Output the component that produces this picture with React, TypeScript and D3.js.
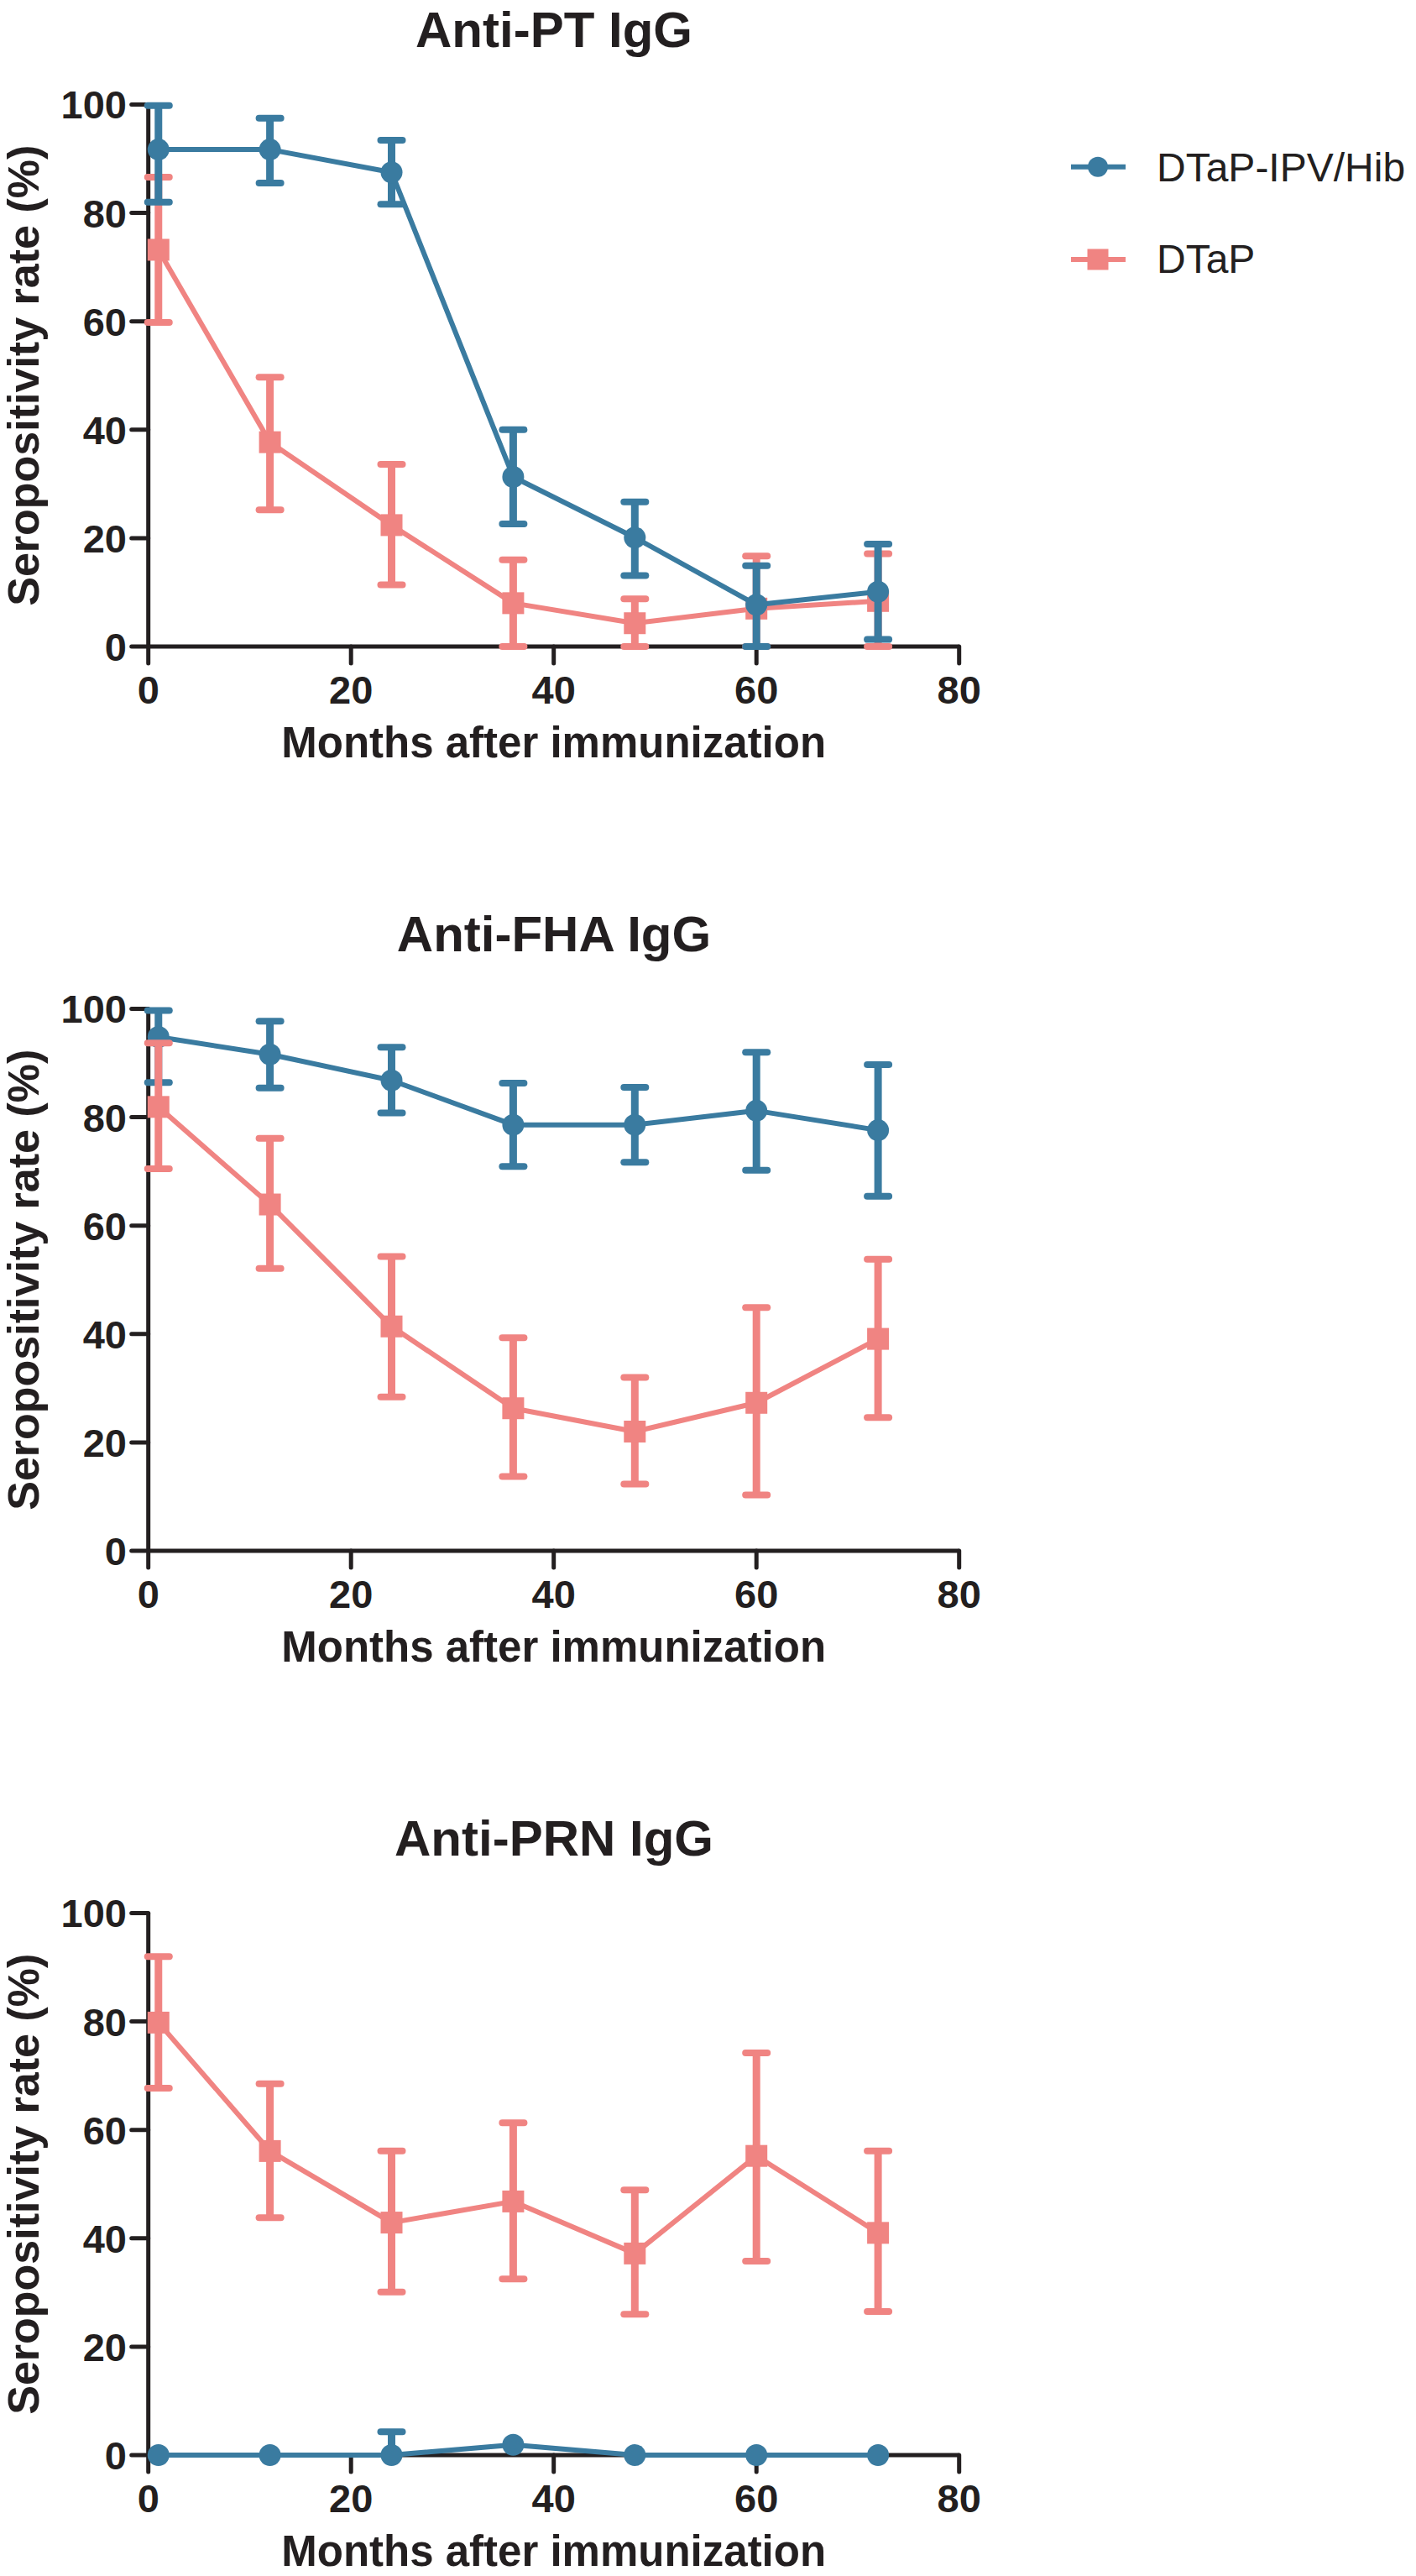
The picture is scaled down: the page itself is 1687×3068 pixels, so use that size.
import React from 'react';
import * as d3 from 'd3';

const months = [1, 12, 24, 36, 48, 60, 72];
const seriesNames = ['DTaP-IPV/Hib', 'DTaP'];
const panelTitles = ['Anti-PT IgG', 'Anti-FHA IgG', 'Anti-PRN IgG'];
const yTicks = [0, 20, 40, 60, 80, 100];
const xTicks = [0, 20, 40, 60, 80];

// Anti-PT
const ptCombo = [91.7, 91.7, 87.5, 31.3, 20.1, 7.7, 10.1];
const ptComboLo = [82.0, 85.5, 81.6, 22.6, 13.1, 0, 1.3];
const ptComboHi = [99.8, 97.5, 93.4, 40.0, 26.7, 14.9, 18.9];
const ptDtap = [73.2, 37.7, 22.4, 8.0, 4.3, 7.0, 8.4];
const ptDtapLo = [59.8, 25.2, 11.4, 0, 0, 0, 0];
const ptDtapHi = [86.6, 49.7, 33.6, 16.0, 8.8, 16.7, 17.1];

// Anti-FHA
const fhaCombo = [94.8, 91.6, 86.8, 78.6, 78.6, 81.2, 77.6];
const fhaComboLo = [86.4, 85.4, 80.8, 70.9, 71.7, 70.2, 65.4];
const fhaComboHi = [99.7, 97.7, 92.9, 86.3, 85.5, 92.0, 89.7];
const fhaDtap = [81.9, 63.9, 41.4, 26.3, 22.0, 27.3, 39.1];
const fhaDtapLo = [70.5, 52.1, 28.4, 13.7, 12.3, 10.3, 24.6];
const fhaDtapHi = [93.7, 76.1, 54.3, 39.3, 32.0, 44.9, 53.8];

// Anti-PRN
const prnCombo = [0, 0, 0, 1.9, 0, 0, 0];
const prnComboLo = [0, 0, 0, 1.9, 0, 0, 0];
const prnComboHi = [0, 0, 4.3, 1.9, 0, 0, 0];
const prnDtap = [79.8, 56.1, 42.9, 46.8, 37.2, 55.2, 41.0];
const prnDtapLo = [67.7, 43.8, 30.1, 32.5, 26.0, 35.8, 26.5];
const prnDtapHi = [92.0, 68.5, 56.1, 61.3, 48.9, 74.2, 56.1];

const BLUE = '#3a7ba0';
const PINK = '#f08482';
const INK = '#231f20';
const FONT = '"Liberation Sans", Arial, sans-serif';

const panels = [
  { title: panelTitles[0], combo: [ptCombo, ptComboLo, ptComboHi], dtap: [ptDtap, ptDtapLo, ptDtapHi], pinkOnTop: false },
  { title: panelTitles[1], combo: [fhaCombo, fhaComboLo, fhaComboHi], dtap: [fhaDtap, fhaDtapLo, fhaDtapHi], pinkOnTop: true },
  { title: panelTitles[2], combo: [prnCombo, prnComboLo, prnComboHi], dtap: [prnDtap, prnDtapLo, prnDtapHi], pinkOnTop: false },
];

const left = 176.7;
const right = 1142.7;
const firstTop = 124.5;
const plotH = 645.5;
const panelStep = 1077;

const x = d3.scaleLinear().domain([0, 80]).range([left, right]);

type Series = { vals: number[]; lo: number[]; hi: number[]; color: string; shape: 'circle' | 'square' };

function SeriesMarks({ s, y }: { s: Series; y: d3.ScaleLinear<number, number> }) {
  const line = d3.line<number>().x((_, i) => x(months[i])).y(d => y(d));
  const capHalf = 13;
  return (
    <g>
      <path d={line(s.vals) || ''} fill="none" stroke={s.color} strokeWidth={6} strokeLinejoin="round" />
      {s.vals.map((v, i) => {
        const cx = x(months[i]);
        const parts = [];
        if (s.hi[i] > v) {
          parts.push(<line key="hu" x1={cx} x2={cx} y1={y(v)} y2={y(s.hi[i])} stroke={s.color} strokeWidth={9} />);
          parts.push(<line key="hc" x1={cx - capHalf} x2={cx + capHalf} y1={y(s.hi[i])} y2={y(s.hi[i])} stroke={s.color} strokeWidth={8} strokeLinecap="round" />);
        }
        if (s.lo[i] < v) {
          parts.push(<line key="lu" x1={cx} x2={cx} y1={y(v)} y2={y(s.lo[i])} stroke={s.color} strokeWidth={9} />);
          parts.push(<line key="lc" x1={cx - capHalf} x2={cx + capHalf} y1={y(s.lo[i])} y2={y(s.lo[i])} stroke={s.color} strokeWidth={8} strokeLinecap="round" />);
        }
        return <g key={i}>{parts}</g>;
      })}
      {s.vals.map((v, i) =>
        s.shape === 'circle' ? (
          <circle key={'m' + i} cx={x(months[i])} cy={y(v)} r={13} fill={s.color} />
        ) : (
          <rect key={'m' + i} x={x(months[i]) - 13} y={y(v) - 13} width={26} height={26} fill={s.color} />
        )
      )}
    </g>
  );
}

function Panel({ idx }: { idx: number }) {
  const p = panels[idx];
  const top = firstTop + idx * panelStep;
  const y = d3.scaleLinear().domain([0, 100]).range([top + plotH, top]);
  const blue: Series = { vals: p.combo[0], lo: p.combo[1], hi: p.combo[2], color: BLUE, shape: 'circle' };
  const pink: Series = { vals: p.dtap[0], lo: p.dtap[1], hi: p.dtap[2], color: PINK, shape: 'square' };
  const order = p.pinkOnTop ? [blue, pink] : [pink, blue];
  const midY = (y(0) + y(100)) / 2;
  const midX = (x(0) + x(80)) / 2;
  return (
    <g>
      <text x={660} y={top - 69} textAnchor="middle" fontFamily={FONT} fontWeight="bold" fontSize={60} fill={INK}>
        {p.title}
      </text>
      {/* axes */}
      <path d={`M${x(0)},${y(100)}V${y(0)}H${x(80)}`} fill="none" stroke={INK} strokeWidth={5} strokeLinejoin="round" />
      {yTicks.map(t => (
        <g key={'y' + t}>
          <line x1={x(0) - 20} x2={x(0)} y1={y(t)} y2={y(t)} stroke={INK} strokeWidth={5} strokeLinecap="round" />
          <text x={151} y={y(t)} dy="0.36em" textAnchor="end" fontFamily={FONT} fontWeight="bold" fontSize={47} fill={INK}>
            {t}
          </text>
        </g>
      ))}
      {xTicks.map(t => (
        <g key={'x' + t}>
          <line x1={x(t)} x2={x(t)} y1={y(0)} y2={y(0) + 20} stroke={INK} strokeWidth={5} strokeLinecap="round" />
          <text x={x(t)} y={y(0) + 68} textAnchor="middle" fontFamily={FONT} fontWeight="bold" fontSize={47} fill={INK}>
            {t}
          </text>
        </g>
      ))}
      <text x={midX} y={y(0) + 132} textAnchor="middle" fontFamily={FONT} fontWeight="bold" fontSize={51} fill={INK}>
        Months after immunization
      </text>
      <text transform={`translate(46,${midY}) rotate(-90)`} textAnchor="middle" fontFamily={FONT} fontWeight="bold" fontSize={52} fill={INK}>
        Seropositivity rate (%)
      </text>
      {order.map((s, i) => (
        <SeriesMarks key={i} s={s} y={y} />
      ))}
    </g>
  );
}

function Legend() {
  const rows = [
    { name: seriesNames[0], color: BLUE, shape: 'circle', cy: 198.7, base: 216 },
    { name: seriesNames[1], color: PINK, shape: 'square', cy: 309, base: 325 },
  ];
  return (
    <g>
      {rows.map(r => (
        <g key={r.name}>
          <line x1={1276} x2={1341} y1={r.cy} y2={r.cy} stroke={r.color} strokeWidth={6} />
          {r.shape === 'circle' ? (
            <circle cx={1308} cy={r.cy} r={12} fill={r.color} />
          ) : (
            <rect x={1308 - 12.5} y={r.cy - 12.5} width={25} height={25} fill={r.color} />
          )}
          <text x={1378} y={r.base} fontFamily={FONT} fontSize={48} fill={INK}>
            {r.name}
          </text>
        </g>
      ))}
    </g>
  );
}

export default function App() {
  return (
    <svg
      width={1687}
      height={3068}
      style={{ position: 'absolute', left: 0, top: 0, background: '#fff' }}
    >
      <rect width={1687} height={3068} fill="#fff" />
      {panels.map((_, i) => (
        <Panel key={i} idx={i} />
      ))}
      <Legend />
    </svg>
  );
}
